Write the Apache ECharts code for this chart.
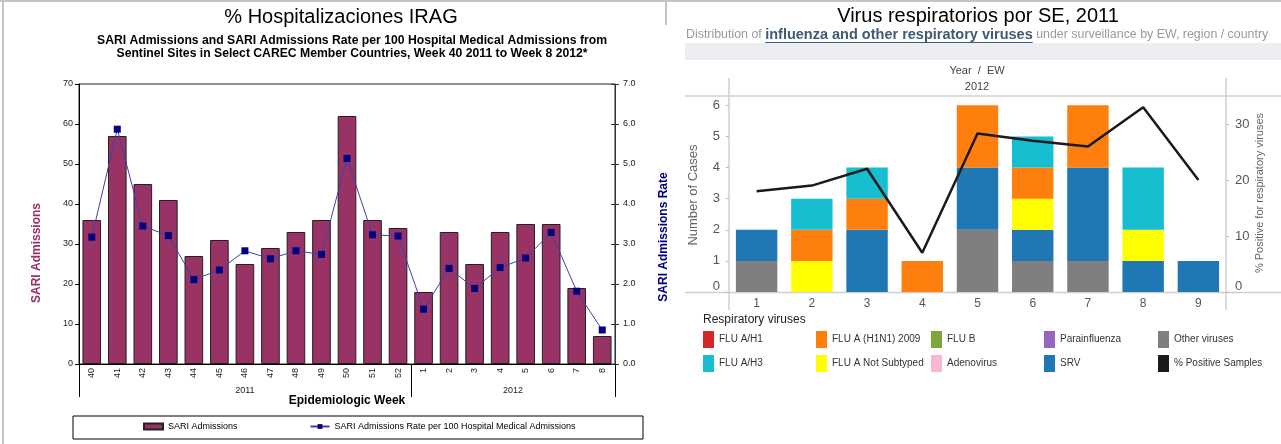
<!DOCTYPE html>
<html>
<head>
<meta charset="utf-8">
<script src="https://cdn.jsdelivr.net/npm/echarts@6.0.0/dist/echarts.min.js"></script>
<style>
  html, body { margin: 0; padding: 0; background: #fff; }
  #chart { width: 1281px; height: 444px; }
</style>
</head>
<body>
<div id="chart"></div>
<script>
// ---------- left panel: SARI admissions ----------
var weeks = ['40', '41', '42', '43', '44', '45', '46', '47', '48', '49', '50', '51', '52',
             '1', '2', '3', '4', '5', '6', '7', '8'];
var years = ['2011', '2012'];
var weeksPerYear = [13, 8];
var sariAdmissions = [36, 57, 45, 41, 27, 31, 25, 29, 33, 36, 62, 36, 34, 18, 33, 25, 33, 35, 35, 19, 7];
var sariRate = [3.17, 5.87, 3.45, 3.21, 2.11, 2.35, 2.83, 2.63, 2.83, 2.74, 5.14, 3.23, 3.2,
                1.37, 2.39, 1.89, 2.41, 2.65, 3.29, 1.82, 0.85];

// ---------- right panel: respiratory viruses ----------
var ewLabels = ['1', '2', '3', '4', '5', '6', '7', '8', '9'];
var otherViruses = [1, 0, 0, 0, 2, 1, 1, 0, 0];
var srv = [1, 0, 2, 0, 2, 1, 3, 1, 1];
var fluNotSubtyped = [0, 1, 0, 0, 0, 1, 0, 1, 0];
var fluH1N1 = [0, 1, 1, 1, 2, 1, 2, 0, 0];
var fluH3 = [0, 1, 1, 0, 0, 1, 0, 2, 0];
var fluH1 = [0, 0, 0, 0, 0, 0, 0, 0, 0];
var fluB = [0, 0, 0, 0, 0, 0, 0, 0, 0];
var adenovirus = [0, 0, 0, 0, 0, 0, 0, 0, 0];
var parainfluenza = [0, 0, 0, 0, 0, 0, 0, 0, 0];
var percentPositive = [18, 19, 22, 7, 28.3, 27, 26, 33, 20];
var caseTicks = [0, 1, 2, 3, 4, 5, 6];
var percentTicks = [0, 10, 20, 30];

var FONT = '"Liberation Sans", Arial, sans-serif';
var chart = echarts.init(document.getElementById('chart'));

// year group boundaries / centres on the week axis
var yearBounds = [0];
weeksPerYear.forEach(function (n) { yearBounds.push(yearBounds[yearBounds.length - 1] + n); });
var yearCenters = years.map(function (y, i) { return (yearBounds[i] + yearBounds[i + 1]) / 2; });

function measure(str, font) {
  var ctx = document.createElement('canvas').getContext('2d');
  ctx.font = font;
  return ctx.measureText(str).width;
}

function zeroUp(v) {
  return v === 0 ? '{z|0}' : String(v);
}

var virusSeries = [
  {name: 'Other viruses', data: otherViruses, color: '#7f7f7f'},
  {name: 'SRV', data: srv, color: '#1f77b4'},
  {name: 'FLU A Not Subtyped', data: fluNotSubtyped, color: '#ffff00'},
  {name: 'FLU A (H1N1) 2009', data: fluH1N1, color: '#ff7f0e'},
  {name: 'FLU A/H3', data: fluH3, color: '#17becf'},
  {name: 'FLU A/H1', data: fluH1, color: '#d62728'},
  {name: 'FLU B', data: fluB, color: '#7ca83b'},
  {name: 'Adenovirus', data: adenovirus, color: '#f7b6d2'},
  {name: 'Parainfluenza', data: parainfluenza, color: '#9467bd'}
];

var legendColumns = [
  ['FLU A/H1', 'FLU A/H3'],
  ['FLU A (H1N1) 2009', 'FLU A Not Subtyped'],
  ['FLU B', 'Adenovirus'],
  ['Parainfluenza', 'SRV'],
  ['Other viruses', '% Positive Samples']
];
var legendLefts = [703, 816, 931, 1044, 1158];

var rightLegends = legendColumns.map(function (col, i) {
  return {
    orient: 'vertical', left: legendLefts[i], top: 331, padding: 0,
    itemWidth: 11, itemHeight: 17, itemGap: 7, icon: 'rect',
    data: col,
    textStyle: {fontFamily: FONT, fontSize: 10, color: '#333'}
  };
});

var series = [
  {
    name: 'SARI Admissions', type: 'bar', xAxisIndex: 0, yAxisIndex: 0,
    data: sariAdmissions, barWidth: '73%',
    itemStyle: {color: '#993366', borderColor: '#222', borderWidth: 1}
  },
  {
    name: 'SARI Admissions Rate per 100 Hospital Medical Admissions', type: 'line',
    xAxisIndex: 0, yAxisIndex: 1, data: sariRate,
    symbol: 'rect', symbolSize: 7,
    lineStyle: {color: '#4040a8', width: 1},
    itemStyle: {color: '#000080'}
  }
];
virusSeries.forEach(function (v) {
  series.push({
    name: v.name, type: 'bar', stack: 'viruses', xAxisIndex: 2, yAxisIndex: 3,
    data: v.data, barWidth: '75%', itemStyle: {color: v.color}
  });
});
series.push({
  name: '% Positive Samples', type: 'line', xAxisIndex: 2, yAxisIndex: 4,
  data: percentPositive, symbol: 'none', z: 5,
  lineStyle: {color: '#1a1a1a', width: 2.5}, itemStyle: {color: '#1a1a1a'}
});

var boldPart = 'influenza and other respiratory viruses';
var plainFont = '12.4px ' + FONT;
var boldFont = 'bold 14.5px ' + FONT;
var subX = 686;
var subStart = subX + measure('Distribution of ', plainFont);
var subEnd = subStart + measure(boldPart, boldFont);

var gray = '#cfcfcf';

var option = {
  animation: false,
  grid: [
    {left: 79, top: 84, width: 536, height: 280, show: true, borderColor: '#222', borderWidth: 1, outerBoundsMode: 'none'},
    {left: 729, top: 96, width: 497, height: 196, outerBoundsMode: 'none'}
  ],
  legend: [
    {
      left: 143, top: 422, padding: 0, itemWidth: 19, itemHeight: 6, itemGap: 72,
      data: [{name: 'SARI Admissions', icon: 'rect'}, 'SARI Admissions Rate per 100 Hospital Medical Admissions'],
      textStyle: {fontFamily: FONT, fontSize: 9, color: '#000'}
    }
  ].concat(rightLegends),
  xAxis: [
    {
      type: 'category', gridIndex: 0, data: weeks,
      axisLine: {lineStyle: {color: '#000'}},
      axisTick: {interval: 0, length: 16, lineStyle: {color: '#000'}},
      axisLabel: {interval: 0, rotate: 90, fontFamily: FONT, fontSize: 9, color: '#222', margin: 4}
    },
    {
      type: 'value', gridIndex: 0, position: 'bottom', min: 0, max: weeks.length,
      axisLine: {show: false}, splitLine: {show: false},
      axisTick: {customValues: yearBounds, length: 33, lineStyle: {color: '#000'}},
      axisLabel: {
        customValues: yearCenters, margin: 22, fontFamily: FONT, fontSize: 9, color: '#222',
        formatter: function (v) { return years[yearCenters.indexOf(v)]; }
      }
    },
    {
      type: 'category', gridIndex: 1, data: ewLabels,
      axisLine: {show: false},
      axisTick: {interval: 0, length: 3, lineStyle: {color: '#bbb'}},
      axisLabel: {fontFamily: FONT, fontSize: 12, color: '#555', margin: 6}
    }
  ],
  yAxis: [
    {
      type: 'value', gridIndex: 0, min: 0, max: 70, interval: 10,
      axisLine: {show: true, lineStyle: {color: '#000'}},
      axisTick: {show: true, length: 4, lineStyle: {color: '#000'}},
      axisLabel: {fontFamily: FONT, fontSize: 9, color: '#222', margin: 6},
      splitLine: {show: false}
    },
    {
      type: 'value', gridIndex: 0, position: 'right', min: 0, max: 7, interval: 1,
      axisLine: {show: true, lineStyle: {color: '#333'}},
      axisTick: {show: true, length: 4, lineStyle: {color: '#333'}},
      axisLabel: {fontFamily: FONT, fontSize: 9, color: '#222', margin: 8,
        formatter: function (v) { return v.toFixed(1); }},
      splitLine: {show: false}
    },
    {
      type: 'value', gridIndex: 0, position: 'right', min: 0, max: 7, interval: 1,
      axisLine: {show: false},
      axisTick: {show: true, inside: true, length: 4, lineStyle: {color: '#333'}},
      axisLabel: {show: false}, splitLine: {show: false}
    },
    {
      type: 'value', gridIndex: 1, min: 0, max: 6.3,
      axisLine: {show: false},
      axisTick: {show: true, customValues: caseTicks, length: 3, lineStyle: {color: '#bbb'}},
      axisLabel: {customValues: caseTicks, fontFamily: FONT, fontSize: 13, color: '#555', margin: 9,
        formatter: zeroUp, rich: {z: {fontFamily: FONT, fontSize: 13, color: '#555', padding: [0, 0, 12, 0]}}},
      splitLine: {show: false}
    },
    {
      type: 'value', gridIndex: 1, position: 'right', min: 0, max: 35,
      axisLine: {show: false},
      axisTick: {show: true, customValues: percentTicks, length: 3, lineStyle: {color: '#bbb'}},
      axisLabel: {customValues: percentTicks, fontFamily: FONT, fontSize: 13, color: '#555', margin: 9,
        formatter: zeroUp, rich: {z: {fontFamily: FONT, fontSize: 13, color: '#555', padding: [0, 0, 12, 0]}}},
      splitLine: {show: false}
    }
  ],
  graphic: [
    // frame
    {type: 'rect', shape: {x: 0, y: 0, width: 1281, height: 2}, style: {fill: '#c4c4c4'}, silent: true},
    {type: 'rect', shape: {x: 2, y: 0, width: 2, height: 444}, style: {fill: '#c4c4c4'}, silent: true},
    {type: 'rect', shape: {x: 665, y: 2, width: 2, height: 23}, style: {fill: '#c4c4c4'}, silent: true},
    // left titles
    {type: 'text', x: 341, y: 17, style: {text: '% Hospitalizaciones IRAG', font: '20px ' + FONT, fill: '#000', align: 'center', verticalAlign: 'middle'}},
    {type: 'text', x: 352, y: 41, style: {text: 'SARI Admissions and SARI Admissions Rate per 100 Hospital Medical Admissions from', font: 'bold 12.2px ' + FONT, fill: '#000', align: 'center', verticalAlign: 'middle'}},
    {type: 'text', x: 352, y: 54, style: {text: 'Sentinel Sites in Select CAREC Member Countries, Week 40 2011 to Week 8 2012*', font: 'bold 12.2px ' + FONT, fill: '#000', align: 'center', verticalAlign: 'middle'}},
    {type: 'text', x: 37, y: 253, rotation: Math.PI / 2, style: {text: 'SARI Admissions', font: 'bold 12px ' + FONT, fill: '#993366', align: 'center', verticalAlign: 'middle'}},
    {type: 'text', x: 664, y: 237, rotation: Math.PI / 2, style: {text: 'SARI Admissions Rate', font: 'bold 12px ' + FONT, fill: '#000080', align: 'center', verticalAlign: 'middle'}},
    {type: 'text', x: 347, y: 401, style: {text: 'Epidemiologic Week', font: 'bold 12px ' + FONT, fill: '#000', align: 'center', verticalAlign: 'middle'}},
    {type: 'rect', shape: {x: 73, y: 416, width: 570, height: 23}, style: {fill: 'none', stroke: '#000', lineWidth: 1}, silent: true},
    // right header
    {type: 'text', x: 978, y: 16, style: {text: 'Virus respiratorios por SE, 2011', font: '20px ' + FONT, fill: '#000', align: 'center', verticalAlign: 'middle'}},
    {type: 'rect', shape: {x: 685, y: 43, width: 596, height: 17}, style: {fill: '#eceef1'}, silent: true},
    {type: 'text', x: subX, y: 35, style: {
      text: '{a|Distribution of }{b|' + boldPart + '}{a| under surveillance by EW, region / country}',
      verticalAlign: 'middle',
      rich: {
        a: {font: plainFont, fill: '#9a9a9a'},
        b: {font: boldFont, fill: '#3d5a78'}
      }
    }},
    {type: 'line', shape: {x1: subStart, y1: 42.5, x2: subEnd, y2: 42.5}, style: {stroke: '#3d5a78', lineWidth: 1}, silent: true},
    {type: 'text', x: 977, y: 71, style: {text: 'Year  /  EW', font: '11px ' + FONT, fill: '#444', align: 'center', verticalAlign: 'middle'}},
    {type: 'text', x: 977, y: 87, style: {text: '2012', font: '11px ' + FONT, fill: '#444', align: 'center', verticalAlign: 'middle'}},
    {type: 'line', shape: {x1: 685, y1: 96, x2: 1281, y2: 96}, style: {stroke: gray, lineWidth: 1.5}, silent: true},
    {type: 'line', shape: {x1: 685, y1: 292.5, x2: 1281, y2: 292.5}, style: {stroke: gray, lineWidth: 1.5}, silent: true},
    {type: 'line', shape: {x1: 729, y1: 78, x2: 729, y2: 310}, style: {stroke: gray, lineWidth: 1.5}, silent: true},
    {type: 'line', shape: {x1: 1226, y1: 78, x2: 1226, y2: 310}, style: {stroke: gray, lineWidth: 1.5}, silent: true},
    {type: 'text', x: 693, y: 195, rotation: Math.PI / 2, style: {text: 'Number of Cases', font: '13px ' + FONT, fill: '#666', align: 'center', verticalAlign: 'middle'}},
    {type: 'text', x: 1260, y: 193, rotation: Math.PI / 2, style: {text: '% Positive for respiratory viruses', font: '11px ' + FONT, fill: '#666', align: 'center', verticalAlign: 'middle'}},
    {type: 'text', x: 703, y: 320, style: {text: 'Respiratory viruses', font: '12px ' + FONT, fill: '#222', verticalAlign: 'middle'}}
  ],
  series: series
};

chart.setOption(option);
</script>
</body>
</html>
